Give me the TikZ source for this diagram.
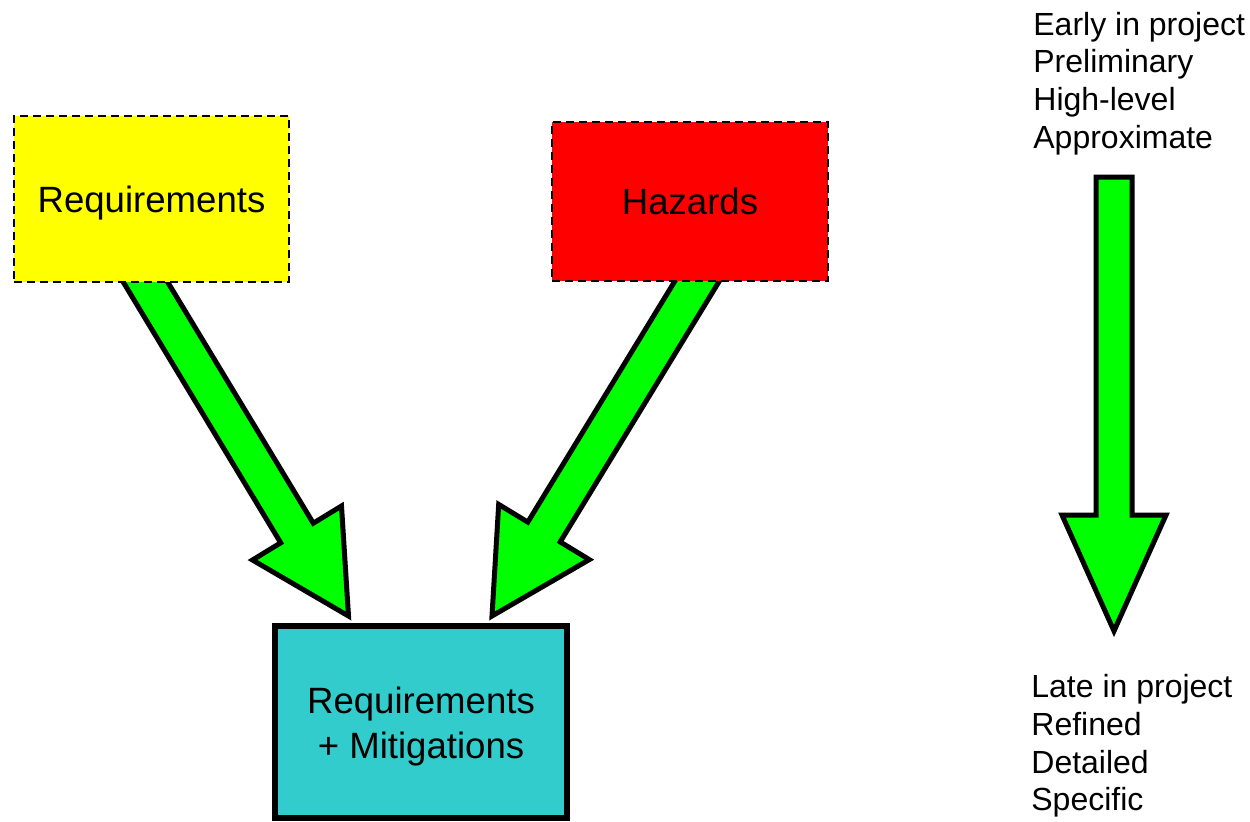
\documentclass[tikz,border=0pt]{standalone}
\usepackage{fontspec}
\setmainfont{Liberation Sans}
\definecolor{arrowgreen}{HTML}{00FF00}
\definecolor{boxyellow}{HTML}{FFFF00}
\definecolor{boxred}{HTML}{FF0000}
\definecolor{boxteal}{HTML}{33CCCC}
\begin{document}
\begin{tikzpicture}[x=0.5pt,y=-0.5pt,
  dashbox/.style={draw=black, line width=1.4pt, dash pattern=on 4pt off 2.5pt, inner sep=0pt,
    font=\fontsize{18.3}{22.5}\selectfont, align=center},
  solidbox/.style={draw=black, line width=3pt, inner sep=0pt},
  boxlabel/.style={inner sep=0pt, font=\fontsize{18.3}{22.5}\selectfont, align=center},
  blockarrow/.style={draw=black, fill=arrowgreen, line width=2.5pt, line join=miter, miter limit=10},
  sidetext/.style={inner sep=0pt, align=left, font=\fontsize{16}{18.9}\selectfont}]
\useasboundingbox (0,0) rectangle (1250,821);
% block arrows (drawn below the boxes)
\draw[blockarrow] (154.6,260.4) -- (313.3,523.2) -- (341.5,506) -- (348.5,616) -- (252.5,560) -- (280.7,542.8) -- (122,280) -- cycle;
\draw[blockarrow] (720.2,279.7) -- (560.2,541.9) -- (589.3,559.6) -- (492,616) -- (498.7,504.4) -- (527.8,522.1) -- (687.8,259.9) -- cycle;
% boxes
\node[dashbox, fill=boxyellow, minimum width=137.5pt, minimum height=83pt, text depth=0pt] (req) at (151.5,199) {Requirements};
\node[dashbox, fill=boxred, minimum width=138pt, minimum height=79.5pt] (haz) at (690,201.5) {Hazards};
\node[solidbox, fill=boxteal, minimum width=146pt, minimum height=96pt] (mit) at (421,722) {};
\node[boxlabel] (mitlabel) at ([yshift=-2.5pt]mit.center) {Requirements\\+ Mitigations};
% side texts
\node[sidetext, anchor=north west] (early) at (1033,11.5) {Early in project\\Preliminary\\High-level\\Approximate};
\node[sidetext, anchor=north west] (late) at (1031,674) {Late in project\\Refined\\Detailed\\Specific};
% vertical arrow
\draw[blockarrow] (1096,177) -- (1132,177) -- (1132,515) -- (1166,515) -- (1114,631) -- (1062,515) -- (1096,515) -- cycle;
\end{tikzpicture}
\end{document}
